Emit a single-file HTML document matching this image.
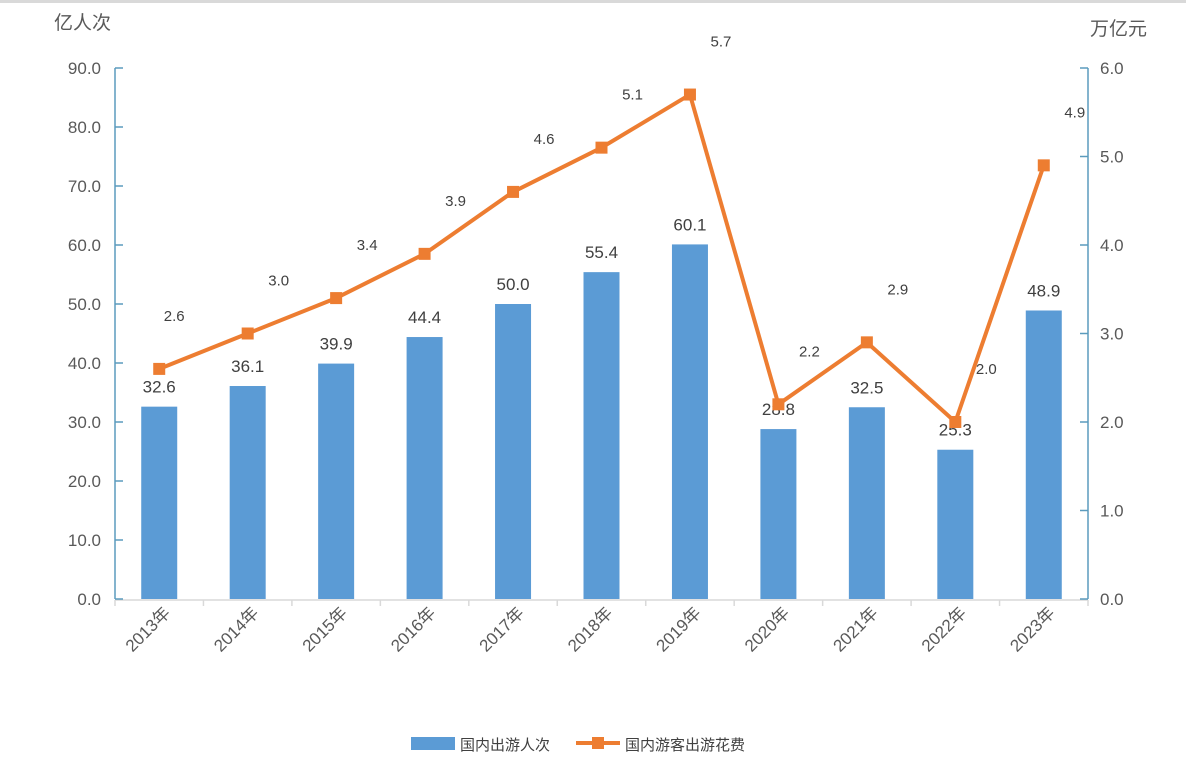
<!DOCTYPE html>
<html><head><meta charset="utf-8"><style>
body{margin:0;background:#fff;}
svg{display:block;font-family:"Liberation Sans","Noto Sans CJK SC",sans-serif;}
</style></head><body>
<svg width="1186" height="775">
<rect x="0" y="0" width="1186" height="3" fill="#d9d9d9"/>
<g id="chart"></g>
</svg>
<script>
const categories=["2013年","2014年","2015年","2016年","2017年","2018年","2019年","2020年","2021年","2022年","2023年"];
const trips=[32.6,36.1,39.9,44.4,50.0,55.4,60.1,28.8,32.5,25.3,48.9];
const spending=[2.6,3.0,3.4,3.9,4.6,5.1,5.7,2.2,2.9,2.0,4.9];
const leftTicks=[0,10,20,30,40,50,60,70,80,90];
const rightTicks=[0,1,2,3,4,5,6];
const NS="http://www.w3.org/2000/svg";
const g=document.getElementById('chart');
const X0=115,X1=1088,Y0=599,Y1=68;
const step=(X1-X0)/categories.length;
const xc=i=>X0+step*(i+0.5);
const yl=v=>Y0-(Y0-Y1)*v/90;
const yr=v=>Y0-(Y0-Y1)*v/6;
function el(t,a,txt){const e=document.createElementNS(NS,t);for(const k in a)e.setAttribute(k,a[k]);if(txt!==undefined)e.textContent=txt;g.appendChild(e);return e;}
// axes
let e=el('line',{x1:X0,y1:Y0+1,x2:X1,y2:Y0+1,stroke:'#d9d9d9','stroke-width':1.5});

for(let i=0;i<=categories.length;i++){e=el('line',{x1:X0+step*i,y1:Y0+1,x2:X0+step*i,y2:Y0+7,stroke:'#d9d9d9','stroke-width':1.5});
}
e=el('line',{x1:X0,y1:Y1,x2:X0,y2:Y0,stroke:'#5b9bbd','stroke-width':1.5});

e=el('line',{x1:X1,y1:Y1,x2:X1,y2:Y0,stroke:'#5b9bbd','stroke-width':1.5});

leftTicks.forEach(v=>{
 e=el('line',{x1:X0,y1:yl(v),x2:X0+8,y2:yl(v),stroke:'#5b9bbd','stroke-width':1.5});
 
 e=el('text',{x:101,y:yl(v)+6,'text-anchor':'end','font-size':17,fill:'#595959'},v.toFixed(1));
 
});
rightTicks.forEach(v=>{
 e=el('line',{x1:X1-8,y1:yr(v),x2:X1,y2:yr(v),stroke:'#5b9bbd','stroke-width':1.5});
 
 e=el('text',{x:1100,y:yr(v)+6,'text-anchor':'start','font-size':17,fill:'#595959'},v.toFixed(1));
 
});
e=el('text',{x:54,y:29,'font-size':19,fill:'#595959'},'亿人次');

e=el('text',{x:1090,y:35,'font-size':19,fill:'#595959'},'万亿元');

// bars
trips.forEach((v,i)=>{
 e=el('rect',{x:xc(i)-18,y:yl(v),width:36,height:Y0-yl(v),fill:'#5b9bd5'});
 
 e=el('text',{x:xc(i),y:yl(v)-14,'text-anchor':'middle','font-size':17,fill:'#404040'},v.toFixed(1));
 
});
// line
const pts=spending.map((v,i)=>xc(i)+','+yr(v)).join(' ');
e=el('polyline',{points:pts,fill:'none',stroke:'#ed7d31','stroke-width':4,'stroke-linejoin':'round'});

spending.forEach((v,i)=>{
 e=el('rect',{x:xc(i)-6,y:yr(v)-6,width:12,height:12,fill:'#ed7d31'});
 
 e=el('text',{x:xc(i)+(i==0?15:31),y:yr(v)-48,'text-anchor':'middle','font-size':15,fill:'#404040'},v.toFixed(1));
 
});
// x labels
categories.forEach((c,i)=>{
 const x=xc(i)+12,y=614;
 e=el('text',{x:x,y:y,'text-anchor':'end','font-size':17,fill:'#595959',transform:`rotate(-45 ${x} ${y})`},c);
 
});
// legend
e=el('rect',{x:411,y:737,width:44,height:13,fill:'#5b9bd5'});

e=el('text',{x:460,y:750,'font-size':15,fill:'#404040'},'国内出游人次');

e=el('line',{x1:576,y1:743,x2:620,y2:743,stroke:'#ed7d31','stroke-width':4});

e=el('rect',{x:592,y:737,width:12,height:12,fill:'#ed7d31'});

e=el('text',{x:625,y:750,'font-size':15,fill:'#404040'},'国内游客出游花费');

</script>
</body></html>
